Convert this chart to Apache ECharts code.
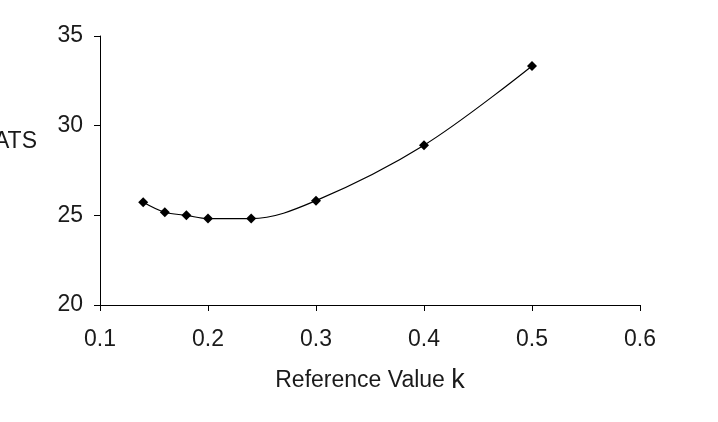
<!DOCTYPE html>
<html>
<head>
<meta charset="utf-8">
<script src="https://cdn.jsdelivr.net/npm/echarts@6/dist/echarts.min.js"></script>
<style>html,body{margin:0;padding:0;background:#fff;}#c{width:718px;height:422px;}</style>
</head>
<body>
<div id="c"></div>
<script>
const kValues = [0.14, 0.16, 0.18, 0.20, 0.24, 0.30, 0.40, 0.50];
const atsValues = [25.73, 25.17, 25.0, 24.82, 24.82, 25.82, 28.91, 33.33];
const xTicks = [0.1, 0.2, 0.3, 0.4, 0.5, 0.6];
const yTicks = [20, 25, 30, 35];
const xTitleMain = 'Reference Value ';
const xTitleK = 'k';
const yTitle = 'ATS';

const chart = echarts.init(document.getElementById('c'));
const font = 'Liberation Sans, Arial, sans-serif';
const txtColor = '#1a1a1a';
chart.setOption({
  animation: false,
  backgroundColor: '#fff',
  grid: { left: 100, right: 78, top: 36, bottom: 117, outerBoundsMode: 'none', containLabel: false },
  xAxis: {
    type: 'value', min: xTicks[0], max: xTicks[xTicks.length - 1], interval: 0.1,
    name: xTitleMain + '{k|' + xTitleK + '}', nameLocation: 'middle', nameGap: 62,
    nameTextStyle: { fontFamily: font, fontSize: 23, color: txtColor,
      rich: { k: { fontFamily: font, fontSize: 27, color: txtColor } } },
    axisLine: { show: true, lineStyle: { color: '#000', width: 1 } },
    axisTick: { show: true, length: 6, lineStyle: { color: '#000' } },
    axisLabel: { margin: 23, fontFamily: font, fontSize: 23, color: txtColor,
      formatter: v => (Math.round(v * 10) / 10).toFixed(1) },
    splitLine: { show: false }
  },
  yAxis: {
    type: 'value', min: yTicks[0], max: yTicks[yTicks.length - 1], interval: 5,
    name: yTitle + '\n\n', nameLocation: 'middle', nameRotate: 0, nameGap: 63,
    nameTextStyle: { fontFamily: font, fontSize: 23, lineHeight: 29, color: txtColor },
    axisLine: { show: true, lineStyle: { color: '#000', width: 1 } },
    axisTick: { show: true, length: 6, lineStyle: { color: '#000' } },
    axisLabel: { margin: 17, fontFamily: font, fontSize: 23, color: txtColor },
    splitLine: { show: false }
  },
  series: [{
    type: 'line',
    data: kValues.map((k, i) => [k, atsValues[i]]),
    smooth: 0.35,
    symbol: 'diamond',
    symbolSize: 10,
    itemStyle: { color: '#000' },
    lineStyle: { color: '#000', width: 1.2 }
  }]
});
</script>
</body>
</html>
